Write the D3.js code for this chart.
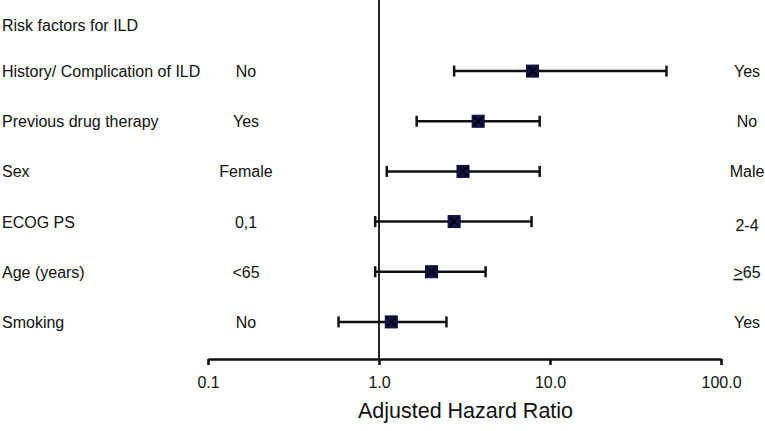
<!DOCTYPE html>
<html>
<head>
<meta charset="utf-8">
<script src="https://cdn.jsdelivr.net/npm/d3@7"></script>
<style>
  html, body { margin: 0; padding: 0; background: #fff; }
  svg text { font-family: "Liberation Sans", Arial, sans-serif; fill: #111; }
</style>
</head>
<body>
<svg id="chart" width="765" height="431"></svg>
<script>
const title = "Risk factors for ILD";
const factors = ["History/ Complication of ILD", "Previous drug therapy", "Sex", "ECOG PS", "Age (years)", "Smoking"];
const refLabels = ["No", "Yes", "Female", "0,1", "<65", "No"];
const cmpLabels = ["Yes", "No", "Male", "2-4", "≥65", "Yes"];
const hr = [7.9, 3.8, 3.1, 2.75, 2.03, 1.18];
const ciLow = [2.75, 1.66, 1.11, 0.95, 0.95, 0.58];
const ciHigh = [48, 8.7, 8.7, 7.8, 4.2, 2.48];
const tickValues = [0.1, 1, 10, 100];
const tickLabels = ["0.1", "1.0", "10.0", "100.0"];
const axisTitle = "Adjusted Hazard Ratio";

const svg = d3.select("#chart");
const x = d3.scaleLog().domain([0.1, 100]).range([208, 721]);
const y = d3.scaleBand().domain(factors).range([46, 347]).paddingInner(0).paddingOuter(0);
const yc = d => y(d) + y.bandwidth() / 2;
const axisY = 359;
const fs = 16;

// reference line at HR = 1
svg.append("line")
  .attr("x1", x(1)).attr("x2", x(1))
  .attr("y1", 0).attr("y2", axisY)
  .attr("stroke", "#111").attr("stroke-width", 1.8);

// x axis
const axis = d3.axisBottom(x).tickValues(tickValues)
  .tickFormat((d, i) => tickLabels[i]).tickSizeOuter(0).tickSizeInner(6).tickPadding(12);
const gAxis = svg.append("g").attr("transform", `translate(0,${axisY})`).call(axis);
gAxis.select(".domain").attr("stroke", "#111").attr("stroke-width", 2.6);
gAxis.selectAll(".tick line").attr("stroke", "#111").attr("stroke-width", 2.6);
gAxis.selectAll(".tick text").attr("font-size", fs)
  .style("font-family", "'Liberation Sans', Arial, sans-serif").attr("fill", "#111");

svg.append("text").attr("x", x(Math.sqrt(10)) + 1).attr("y", 418)
  .attr("text-anchor", "middle").attr("font-size", 21.5).text(axisTitle);

// title
svg.append("text").attr("x", 2).attr("y", 31).attr("font-size", fs).text(title);

// rows
const rows = svg.append("g").selectAll("g").data(factors).join("g");
rows.append("text").attr("x", 2).attr("y", d => yc(d) + 6).attr("font-size", fs).text(d => d);
rows.append("text").attr("x", 246).attr("y", d => yc(d) + 6).attr("font-size", fs)
  .attr("text-anchor", "middle").text((d, i) => refLabels[i]);
rows.append("text").attr("x", 747).attr("y", (d, i) => yc(d) + 6 + (i === 3 ? 3 : 0)).attr("font-size", fs)
  .attr("text-anchor", "middle")
  .each(function(d, i) {
    const t = d3.select(this);
    const s = cmpLabels[i];
    if (s.startsWith("≥")) {
      t.append("tspan").style("text-decoration", "underline").text(">");
      t.append("tspan").text(s.slice(1));
    } else {
      t.text(s);
    }
  });

// CI lines
rows.append("line")
  .attr("x1", (d, i) => x(ciLow[i])).attr("x2", (d, i) => x(ciHigh[i]))
  .attr("y1", d => yc(d)).attr("y2", d => yc(d))
  .attr("stroke", "#111").attr("stroke-width", 2.5);
rows.append("line")
  .attr("x1", (d, i) => x(ciLow[i])).attr("x2", (d, i) => x(ciLow[i]))
  .attr("y1", d => yc(d) - 5.5).attr("y2", d => yc(d) + 5.5)
  .attr("stroke", "#111").attr("stroke-width", 2.5);
rows.append("line")
  .attr("x1", (d, i) => x(ciHigh[i])).attr("x2", (d, i) => x(ciHigh[i]))
  .attr("y1", d => yc(d) - 5.5).attr("y2", d => yc(d) + 5.5)
  .attr("stroke", "#111").attr("stroke-width", 2.5);

// markers
const s = 6;
rows.append("rect")
  .attr("x", (d, i) => x(hr[i]) - s).attr("y", d => yc(d) - s)
  .attr("width", 2 * s).attr("height", 2 * s)
  .attr("fill", "#12124a").attr("stroke", "#0a0a3a").attr("stroke-width", 1);
rows.append("path")
  .attr("d", (d, i) => {
    const cx = x(hr[i]), cy = yc(d), k = s - 1.5;
    return `M${cx - k},${cy - k}L${cx + k},${cy + k}M${cx + k},${cy - k}L${cx - k},${cy + k}`;
  })
  .attr("stroke", "#000").attr("stroke-width", 1.5);
</script>
</body>
</html>
